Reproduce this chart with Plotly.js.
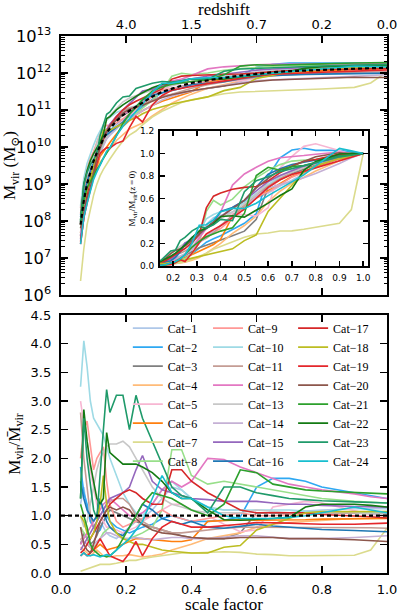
<!DOCTYPE html>
<html>
<head>
<meta charset="utf-8">
<script src="https://cdn.plot.ly/plotly-3.0.1.min.js"></script>
<style>
  body { margin: 0; background: #fff; }
  #chart { width: 399px; height: 614px; }
</style>
</head>
<body>
<div id="chart"></div>
<script>
// scale factor grid shared by every halo track
var aGrid = [0.06, 0.07, 0.08, 0.09, 0.10, 0.11, 0.12, 0.13, 0.14, 0.15, 0.17, 0.19, 0.21, 0.23, 0.25,
             0.28, 0.31, 0.34, 0.37, 0.40, 0.45, 0.50, 0.55, 0.60, 0.65, 0.70, 0.75, 0.80, 0.90, 0.95, 1.00];

// log10 of the mean virial mass (dashed black line, upper panel)
var meanLogM = [7.9, 8.55, 9.0, 9.35, 9.62, 9.85, 10.05, 10.22, 10.38, 10.5, 10.7, 10.86, 10.98, 11.09, 11.2,
                11.36, 11.49, 11.58, 11.66, 11.73, 11.81, 11.87, 11.93, 11.98, 12.02, 12.05, 12.07, 12.09, 12.12, 12.13, 12.14];

// M_vir / mean M_vir for each halo (lower panel)
var r1  = [1.2, 1.5, 1.1, 0.9, 0.8, 0.75, 0.9, 0.8, 0.7, 0.65, 0.6, 0.7, 0.8, 0.9, 0.95, 1.1, 1.3, 1.5, 1.45, 1.3, 1.15, 1.1, 1.1, 1.05, 1.05, 1.05, 1.08, 1.1, 1.12, 1.12, 1.12];
var r2  = [1.85, 1.4, 1.2, 0.9, 0.8, 0.7, 0.75, 0.9, 1.0, 0.9, 0.8, 0.75, 0.7, 0.75, 0.8, 0.85, 0.95, 1.0, 0.95, 0.9, 0.9, 0.92, 0.98, 1.5, 1.65, 1.65, 1.6, 1.5, 1.4, 1.35, 1.3];
var r3  = [0.5, 0.7, 0.6, 0.5, 0.55, 0.65, 0.8, 0.9, 1.0, 1.1, 1.05, 1.0, 0.95, 0.9, 0.85, 0.8, 0.75, 0.7, 0.65, 0.62, 0.6, 0.6, 0.7, 1.05, 1.05, 1.05, 1.05, 1.05, 1.04, 1.04, 1.04];
var r4  = [0.45, 0.4, 0.35, 0.3, 0.35, 0.4, 0.35, 0.3, 0.3, 0.28, 0.3, 0.3, 0.32, 0.3, 0.28, 0.3, 0.33, 0.4, 0.45, 0.5, 0.6, 0.65, 0.7, 0.8, 0.85, 0.88, 0.9, 0.92, 0.95, 0.96, 0.97];
var r5  = [3.0, 2.6, 2.3, 1.8, 1.5, 1.2, 1.0, 0.9, 0.8, 0.8, 0.75, 0.7, 0.75, 0.8, 0.9, 1.0, 1.1, 1.2, 1.2, 1.1, 1.0, 0.85, 0.72, 0.75, 1.15, 1.2, 1.25, 1.22, 1.08, 1.02, 1.0];
var r6  = [0.6, 0.55, 0.5, 0.45, 0.4, 0.45, 0.5, 0.45, 0.4, 0.42, 0.45, 0.5, 0.55, 0.6, 0.6, 0.58, 0.56, 0.55, 0.55, 0.58, 0.9, 0.92, 0.93, 0.92, 0.92, 0.93, 0.93, 0.94, 0.95, 0.95, 0.95];
var r7  = [0.03, 0.05, 0.08, 0.1, 0.12, 0.14, 0.15, 0.15, 0.15, 0.15, 0.17, 0.2, 0.22, 0.22, 0.25, 0.28, 0.3, 0.32, 0.35, 0.35, 0.36, 0.37, 0.36, 0.33, 0.32, 0.3, 0.3, 0.3, 0.31, 0.4, 0.78];
var r8  = [0.8, 0.7, 0.6, 0.5, 0.45, 0.5, 0.6, 0.7, 0.75, 0.8, 0.7, 0.6, 0.6, 0.65, 0.7, 0.8, 1.1, 2.15, 2.15, 1.7, 1.55, 1.6, 1.55, 1.5, 1.45, 1.4, 1.35, 1.3, 1.25, 1.23, 1.22];
var r9  = [2.0, 2.5, 2.65, 2.2, 1.8, 2.0, 2.1, 2.2, 1.6, 1.2, 0.9, 0.8, 0.85, 0.9, 0.95, 1.0, 1.1, 1.0, 0.95, 0.9, 0.95, 1.0, 1.05, 1.0, 1.0, 1.02, 1.03, 1.05, 1.05, 1.05, 1.05];
var r10 = [3.25, 4.05, 3.6, 3.0, 2.7, 2.6, 2.5, 2.4, 2.2, 2.0, 1.7, 1.4, 1.2, 1.05, 1.0, 1.2, 1.45, 1.6, 1.45, 1.3, 1.15, 1.1, 1.1, 1.1, 1.1, 1.1, 1.08, 1.07, 1.06, 1.05, 1.05];
var r11 = [2.8, 2.0, 1.5, 1.0, 0.8, 0.9, 1.0, 1.1, 1.2, 1.25, 1.3, 1.3, 1.2, 1.0, 0.9, 0.8, 0.75, 0.7, 0.7, 0.72, 0.75, 0.78, 0.8, 0.8, 0.8, 0.8, 0.8, 0.8, 0.8, 0.79, 0.78];
var r12 = [0.5, 0.6, 0.7, 0.8, 0.9, 1.0, 1.1, 1.2, 1.25, 1.3, 1.2, 1.1, 1.0, 1.0, 1.05, 1.2, 1.45, 1.6, 1.5, 1.6, 2.0, 1.98, 1.85, 1.75, 1.65, 1.55, 1.5, 1.45, 1.38, 1.33, 1.3];
var r13 = [1.0, 0.8, 0.9, 1.2, 1.5, 1.8, 2.0, 2.1, 2.2, 2.25, 2.25, 2.3, 2.2, 2.0, 1.8, 1.5, 1.3, 1.2, 1.15, 1.1, 1.05, 1.05, 1.05, 1.1, 1.08, 1.05, 1.05, 1.05, 1.05, 1.03, 1.02];
var r14 = [0.6, 0.55, 0.5, 0.45, 0.5, 0.55, 0.6, 0.65, 0.7, 0.7, 0.65, 0.6, 0.6, 0.62, 0.6, 0.58, 0.6, 0.62, 0.62, 0.6, 0.6, 0.62, 0.65, 0.65, 0.62, 0.6, 0.6, 0.6, 0.62, 0.64, 0.65];
var r15 = [0.4, 0.5, 0.6, 0.7, 0.8, 0.9, 1.0, 1.1, 1.2, 1.3, 1.35, 1.4, 1.5, 1.8, 2.05, 1.6, 1.45, 1.4, 1.35, 1.3, 1.28, 1.25, 1.25, 1.25, 1.22, 1.2, 1.2, 1.18, 1.16, 1.15, 1.15];
var r16 = [1.6, 1.3, 1.1, 1.0, 0.9, 1.0, 1.3, 1.1, 0.9, 0.8, 0.7, 0.65, 0.8, 1.0, 1.2, 1.1, 0.95, 0.9, 0.85, 0.9, 0.8, 0.78, 0.82, 0.85, 0.82, 0.8, 0.78, 0.76, 0.74, 0.73, 0.72];
var r17 = [0.35, 0.4, 0.5, 0.6, 0.7, 0.8, 0.9, 1.0, 1.1, 1.2, 1.3, 1.4, 1.45, 1.4, 1.3, 1.2, 1.2, 1.8, 1.8, 1.6, 1.4, 1.25, 1.1, 1.05, 1.05, 1.05, 1.05, 1.02, 1.0, 0.98, 0.96];
var r18 = [1.0, 0.9, 0.7, 0.6, 0.7, 0.9, 1.2, 1.7, 1.2, 0.9, 0.7, 0.6, 0.55, 0.5, 0.5, 0.45, 0.4, 0.38, 0.36, 0.35, 0.35, 0.45, 0.48, 0.75, 0.85, 0.95, 1.05, 1.07, 1.07, 1.07, 1.07];
var r19 = [0.3, 0.35, 0.3, 0.35, 0.4, 0.5, 0.6, 0.5, 0.4, 0.3, 0.25, 0.2, 0.35, 0.55, 0.3, 0.6, 0.8, 0.9, 0.85, 0.8, 0.8, 0.82, 0.85, 0.88, 0.88, 0.87, 0.86, 0.85, 0.85, 0.86, 0.87];
var r20 = [0.8, 0.5, 0.4, 0.35, 0.5, 0.7, 0.9, 1.0, 1.1, 1.15, 1.1, 1.15, 1.1, 0.95, 0.85, 0.75, 0.7, 0.68, 0.65, 0.62, 0.6, 0.6, 0.62, 0.62, 0.62, 0.6, 0.6, 0.6, 0.58, 0.56, 0.55];
var r21 = [1.2, 1.0, 0.8, 0.5, 0.4, 0.35, 0.3, 0.3, 0.28, 0.3, 0.4, 0.6, 0.8, 1.0, 1.2, 1.4, 1.35, 1.3, 1.2, 1.1, 1.0, 1.2, 1.8, 1.75, 1.55, 1.5, 1.45, 1.43, 1.41, 1.4, 1.38];
var r22 = [1.3, 2.85, 2.3, 1.9, 1.6, 1.3, 1.2, 1.3, 2.45, 2.1, 2.0, 1.9, 1.9, 1.9, 1.85, 1.75, 1.6, 1.4, 1.3, 1.3, 1.1, 0.93, 0.92, 0.93, 0.95, 0.97, 1.15, 1.2, 1.2, 1.18, 1.15];
var r23 = [1.3, 2.7, 2.0, 1.5, 1.1, 0.95, 1.8, 2.5, 3.2, 2.8, 3.1, 3.1, 2.5, 3.1, 2.7, 2.3, 1.9, 1.5, 1.35, 1.3, 1.05, 1.5, 1.5, 1.4, 1.35, 1.3, 1.28, 1.26, 1.24, 1.23, 1.22];
var r24 = [0.3, 0.35, 0.3, 0.3, 0.32, 0.3, 0.28, 0.3, 0.32, 0.3, 0.4, 0.5, 0.6, 0.75, 0.9, 1.3, 1.7, 1.4, 1.3, 1.3, 1.15, 1.0, 0.95, 0.95, 0.95, 0.97, 1.0, 1.05, 1.15, 1.1, 1.05];

var ratios = [r1, r2, r3, r4, r5, r6, r7, r8, r9, r10, r11, r12,
              r13, r14, r15, r16, r17, r18, r19, r20, r21, r22, r23, r24];

var catNames = [];
for (var k = 1; k <= 24; k++) catNames.push("Cat\u2212" + k);

var catColors = ['#aec7e8', '#2ea8f2', '#7f7f7f', '#ffbb78', '#f7b6d2', '#ff7f0e', '#dbdb8d', '#98df8a',
                 '#ff9896', '#9edae5', '#c49c94', '#e377c2', '#c7c7c7', '#c5b0d5', '#9467bd', '#1f77b4',
                 '#d62728', '#bcbd22', '#e4262b', '#8c564b', '#2ca02c', '#137a13', '#1f9a6a', '#17becf'];

// redshift labels for the top axis (at a = 0.2 ... 1.0)
var zTickA = [0.2, 0.4, 0.6, 0.8, 1.0];
var zLabels = ["4.0", "1.5", "0.7", "0.2", "0.0"];

var serif = "Liberation Serif, DejaVu Serif, serif";
var sans = "DejaVu Sans, sans-serif";

var meanM = meanLogM.map(function (v) { return Math.pow(10, v); });
var last = aGrid.length - 1;

var data = [];
for (var i = 0; i < ratios.length; i++) {
  var r = ratios[i];
  var mass = r.map(function (v, j) { return v * meanM[j]; });
  var frac = mass.map(function (v) { return v / mass[last]; });
  var ln = { color: catColors[i], width: 1.6 };

  // upper panel: mass history
  data.push({ x: aGrid, y: mass, xaxis: 'x', yaxis: 'y', type: 'scatter', mode: 'lines',
              line: ln, showlegend: false, hoverinfo: 'skip' });
  // inset: normalised to z = 0
  data.push({ x: aGrid, y: frac, xaxis: 'x3', yaxis: 'y3', type: 'scatter', mode: 'lines',
              line: ln, showlegend: false, hoverinfo: 'skip' });
  // lower panel: ratio to mean
  data.push({ x: aGrid, y: r, xaxis: 'x4', yaxis: 'y4', type: 'scatter', mode: 'lines',
              line: ln, name: catNames[i],
              legend: i < 8 ? 'legend' : (i < 16 ? 'legend2' : 'legend3'),
              hoverinfo: 'skip' });
}

// mean mass, dashed
data.push({ x: aGrid, y: meanM, xaxis: 'x2', yaxis: 'y', type: 'scatter', mode: 'lines',
            line: { color: 'black', width: 2.2, dash: '4px,3px' }, showlegend: false, hoverinfo: 'skip' });

var frame = { showline: true, linecolor: 'black', linewidth: 2.2, mirror: 'ticks',
              ticks: 'inside', tickcolor: 'black', tickwidth: 1.5, ticklen: 7,
              showgrid: false, zeroline: false, tickfont: { family: sans, size: 13, color: 'black' } };

function ax(extra) { return Object.assign({}, frame, extra); }

function legendAt(x) {
  return { x: x, y: 0.483, xanchor: 'left', yanchor: 'top', bgcolor: 'rgba(0,0,0,0)',
           font: { family: serif, size: 12, color: 'black' }, tracegroupgap: 0, itemwidth: 30 };
}

var layout = {
  width: 399, height: 614,
  margin: { l: 61, r: 12, t: 36, b: 41 },
  paper_bgcolor: 'white', plot_bgcolor: 'white',
  xaxis: ax({ domain: [0, 1], range: [0, 1], anchor: 'y', tickvals: [0.2, 0.4, 0.6, 0.8], showticklabels: false }),
  xaxis2: { overlaying: 'x', side: 'top', anchor: 'y', range: [0, 1], tickvals: zTickA, ticktext: zLabels,
            ticks: '', showline: false, showgrid: false, zeroline: false, ticklabelstandoff: 3,
            tickfont: { family: sans, size: 13, color: 'black' },
            title: { text: 'redshift', font: { family: serif, size: 17, color: 'black' }, standoff: 4 } },
  yaxis: ax({ domain: [0.5177, 1], type: 'log', range: [6, 13], dtick: 1, exponentformat: 'power',
              anchor: 'x', ticklabelstandoff: 5,
              minor: { ticks: 'inside', ticklen: 3.5, tickcolor: 'black', tickwidth: 1, dtick: 'D1', showgrid: false },
              title: { text: 'M<sub>vir</sub> (M<sub>\u2299</sub>)', font: { family: serif, size: 17, color: 'black' }, standoff: 6 } }),
  xaxis3: ax({ domain: [0.3037, 0.9417], range: [0.145, 1.02], anchor: 'y3', tickvals: [0.2, 0.3, 0.4, 0.5, 0.6, 0.7, 0.8, 0.9, 1.0],
               tickformat: '.1f', ticklen: 5, linewidth: 2, ticklabelstandoff: 2, tickfont: { family: sans, size: 9, color: 'black' } }),
  yaxis3: ax({ domain: [0.5717, 0.823], range: [0, 1.2], dtick: 0.2, tickformat: '.1f', anchor: 'x3', ticklen: 5, linewidth: 2,
               ticklabelstandoff: 2, tickfont: { family: sans, size: 9, color: 'black' },
               title: { text: 'M<sub>vir</sub>/M<sub>vir</sub>(z\u2009=\u20090)', font: { family: serif, size: 9, color: 'black' }, standoff: 3 } }),
  xaxis4: ax({ domain: [0, 1], range: [0, 1], dtick: 0.2, tickformat: '.1f', anchor: 'y4', ticklabelstandoff: 3,
               title: { text: 'scale factor', font: { family: serif, size: 17, color: 'black' }, standoff: 3 } }),
  yaxis4: ax({ domain: [0, 0.4804], range: [0, 4.5], dtick: 0.5, tickformat: '.1f', anchor: 'x4', ticklabelstandoff: 5,
               title: { text: 'M<sub>vir</sub>/M\u0304<sub>vir</sub>', font: { family: serif, size: 17, color: 'black' }, standoff: 6 } }),
  shapes: [{ type: 'line', xref: 'x4 domain', yref: 'y4', x0: 0, x1: 1, y0: 1, y1: 1,
             line: { color: 'black', width: 2.2, dash: '4px,3px' } }],
  legend: legendAt(0.205),
  legend2: legendAt(0.451),
  legend3: legendAt(0.712)
};

Plotly.newPlot('chart', data, layout, { staticPlot: true, displayModeBar: false });
</script>
</body>
</html>
